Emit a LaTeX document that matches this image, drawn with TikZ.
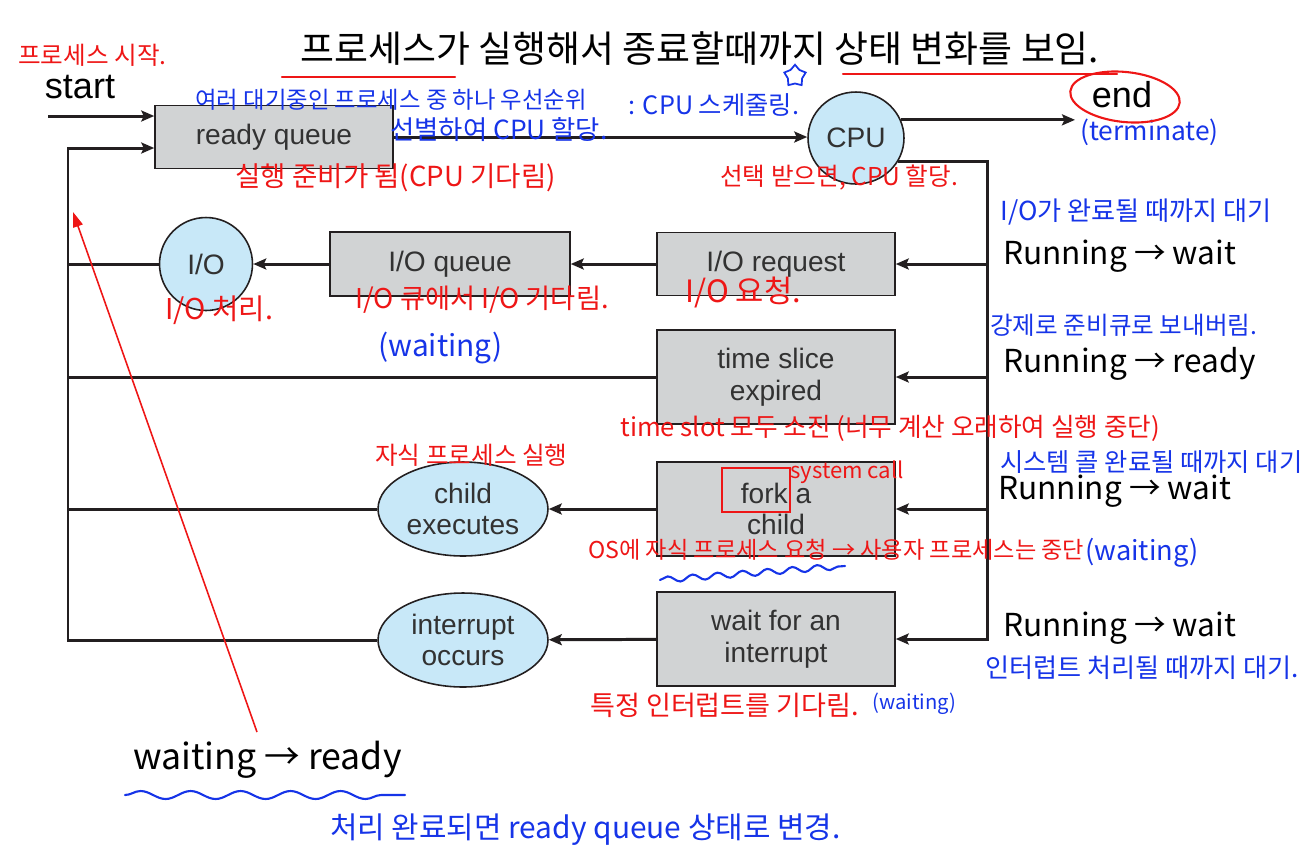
\documentclass[tikz,border=0pt]{standalone}
\usepackage{fontspec}
\setmainfont{Liberation Sans}
\newfontfamily\kr{Noto Sans CJK KR}
\usetikzlibrary{shapes.geometric, arrows.meta, positioning, decorations.pathmorphing}
\definecolor{cLine}{RGB}{35,31,32}
\definecolor{cBox}{RGB}{209,211,212}
\definecolor{cBall}{RGB}{200,232,248}
\definecolor{cText}{RGB}{50,50,50}
\definecolor{hwRed}{RGB}{238,22,22}
\definecolor{hwBlue}{RGB}{22,52,232}
\tikzset{
	queue/.style  ={rectangle, draw=cLine, line width=0.9pt, fill=cBox, minimum width=4.76cm, minimum height=1.26cm, align=center, text=cText, inner sep=0pt, font=\fontsize{16}{18}\selectfont},
	proc/.style   ={ellipse, draw=cLine, line width=0.9pt, fill=cBall, align=center, text=cText, inner sep=0pt, font=\fontsize{16}{18}\selectfont},
	flow/.style   ={-{Stealth[length=0.26cm, width=0.22cm, inset=0.05cm]}, line width=1.7pt, cLine},
	wire/.style   ={line width=1.7pt, cLine},
	big/.style    ={font=\fontsize{20.5}{22}\selectfont, inner sep=0pt},
	state/.style  ={font=\kr\fontsize{18}{20}\selectfont, inner sep=0pt, anchor=west},
	% handwritten notes
	hwr/.style    ={text=hwRed, font=\kr\fontsize{#1}{#1}\selectfont, inner sep=0pt, anchor=west},
	hwr/.default=14,
	hwb/.style    ={text=hwBlue, font=\kr\fontsize{#1}{#1}\selectfont, inner sep=0pt, anchor=west},
	hwb/.default=14,
	hwline/.style ={line width=1.2pt, line cap=round},
}
\begin{document}
\begin{tikzpicture}[x=0.02cm, y=-0.02cm]
\useasboundingbox (0,0) rectangle (1316,867);
% queues and processors
\node[queue] (rq) at (274,137) {ready queue};
\node[proc, minimum width=1.92cm, minimum height=1.84cm] (cpu) at (856,138) {CPU};
\node[queue] (iorq) at (776,264) {I/O request};
\node[queue, minimum width=4.8cm, minimum height=1.28cm] (ioq) at (450,264) {I/O queue};
\node[proc, minimum width=1.86cm, minimum height=1.86cm] (io) at (206,264) {I/O};
\node[queue, minimum height=1.88cm] (tse) at (776,377) {time slice\\expired};
\node[queue, minimum height=1.88cm] (fork) at (776,509) {fork a\\child};
\node[proc, minimum width=3.4cm, minimum height=1.88cm] (child) at (463,509) {child\\executes};
\node[queue, minimum height=1.88cm] (wfi) at (776,639) {wait for an\\interrupt};
\node[proc, minimum width=3.4cm, minimum height=1.88cm] (intr) at (463,640) {interrupt\\occurs};
\node[big] (start) at (80,87) {start};
\node[big] (end) at (1122,95) {end};
% title and states
\node[font=\kr\fontsize{21}{24}\selectfont, inner sep=0pt] (ttl) at (700,49) {프로세스가 실행해서 종료할때까지 상태 변화를 보임.};
\node[state] (st1) at (1003,256) {Running → wait};
\node[state] (st2) at (1003,364) {Running → ready};
\node[state] (st3) at (998,491) {Running → wait};
\node[state] (st4) at (1003,628) {Running → wait};
\node[state, font=\kr\fontsize{20.3}{22}\selectfont] (wr) at (133,760) {waiting → ready};
% connectors
\coordinate (s0) at (48,116);
\coordinate (e0) at (1075,120);
\coordinate (rtop) at (987,161);
\coordinate (lbot) at (68,640);
\coordinate (ltop) at (68,148);
\draw[flow] (s0) -- (s0 -| rq.west);
\draw[flow] (rq.east) -- (rq.east -| cpu.west);
\draw[flow] (cpu.22) -- (cpu.22 -| e0);
\draw[flow] (cpu.-29) -- (cpu.-29 -| rtop) -- (rtop |- wfi.east) -- (wfi.east);
\foreach \b in {iorq, tse, fork}
	\draw[flow] (rtop |- \b.east) -- (\b.east);
\draw[flow] (iorq) -- (ioq);
\draw[flow] (ioq) -- (io);
\draw[flow] (fork) -- (child);
\draw[flow] (wfi) -- (intr);
\draw[flow] (intr.west) -- (lbot) -- (ltop) -- (ltop -| rq.west);
\foreach \b in {io, tse, child}
	\draw[wire] (\b.west) -- (\b.west -| lbot);
% red notes
\node[hwr=14] (n01) at (18,55) {프로세스 시작.};
\node[hwr=15.7] (n05) at (235,178) {실행 준비가 됨(CPU 기다림)};
\node[hwr=14] (n06) at (720,178) {선택 받으면, CPU 할당.};
\node[hwr=16.3] (n09) at (165,310) {I/O 처리.};
\node[hwr=15.5] (n10) at (355,300) {I/O 큐에서 I/O 기다림.};
\node[hwr=17.5] (n12) at (685,292) {I/O 요청.};
\node[hwr=14.6] (n14) at (620,428) {time slot 모두 소진 (너무 계산 오래하여 실행 중단)};
\node[hwr=14] (n15) at (375,455) {자식 프로세스 실행};
\node[hwr=12.6] (n16) at (790,472) {system call};
\node[hwr=13.2] (n18) at (588,550) {OS에 자식 프로세스 요청 → 사용자 프로세스는 중단};
\node[hwr=15.4] (n21) at (590,705) {특정 인터럽트를 기다림.};
% blue notes
\node[hwb=13.3] (n02) at (195,100) {여러 대기중인 프로세스 중 하나 우선순위};
\node[hwb=15] (n03) at (390,130) {선별하여 CPU 할당.};
\node[hwb=14.4] (n04) at (628,105) {: CPU 스케줄링.};
\node[hwb=15] (n07) at (1080,132) {(terminate)};
\node[hwb=14.9] (n08) at (1000,212) {I/O가 완료될 때까지 대기};
\node[hwb=17] (n11) at (378,348) {(waiting)};
\node[hwb=14] (n13) at (990,325) {강제로 준비큐로 보내버림.};
\node[hwb=14.4] (n17) at (1000,462) {시스템 콜 완료될 때까지 대기};
\node[hwb=15.5] (n19) at (1085,553) {(waiting)};
\node[hwb=14.9] (n20) at (985,668) {인터럽트 처리될 때까지 대기.};
\node[hwb=11.5] (n22) at (872,704) {(waiting)};
\node[hwb=17] (n23) at (330,830) {처리 완료되면 ready queue 상태로 변경.};
\node[star, star points=5, draw=hwBlue, line width=1pt, minimum size=0.45cm, inner sep=0pt] (star) at (795,76) {};
% marks
\draw[hwline, hwRed] (282,77) -- (455,77);
\draw[hwline, hwRed] (843,74) -- (1117,74);
\draw[hwline, hwRed, rotate around={-6:(1125,97)}] (1125,97) ellipse [x radius=55, y radius=25];
\draw[hwline, hwRed] (722,468) rectangle (790,512);
\draw[hwline, hwBlue, decorate, decoration={snake, amplitude=0.08cm, segment length=1cm}] (125,795) -- (405,795);
\draw[hwline, hwBlue, decorate, decoration={snake, amplitude=0.06cm, segment length=0.5cm}] (660,580) -- (845,566);
\coordinate (tipR) at (73,212);
\coordinate (tailR) at (257,732);
\draw[hwRed, line width=0.9pt, -{Triangle[length=0.3cm, width=0.2cm]}] (tailR) -- (tipR);
\end{tikzpicture}
\end{document}
